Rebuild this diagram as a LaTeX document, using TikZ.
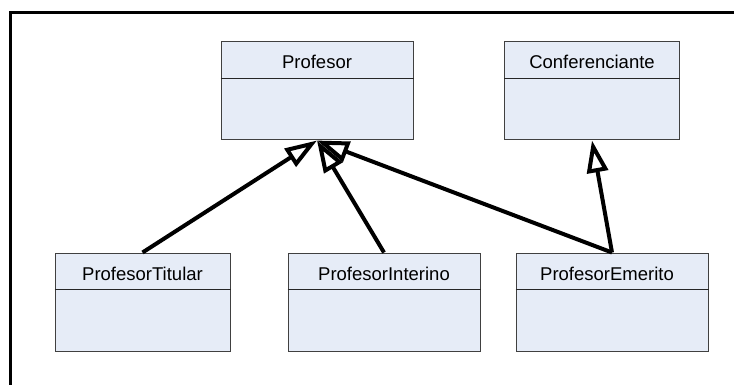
\documentclass[tikz,border=0pt]{standalone}
\usepackage{fontspec}
\setmainfont{Liberation Sans}
\usepackage{tikz}
\usetikzlibrary{arrows.meta}
\definecolor{fondo}{HTML}{E6ECF7}
\definecolor{borde}{HTML}{404040}

\tikzset{
	clase/.style={draw=borde, fill=fondo, line width=1pt, minimum width=#1, minimum height=98pt, inner sep=0pt},
	divisor/.style={draw=black!85, line width=1pt},
	nombre/.style={anchor=base, inner sep=0pt, font=\fontsize{18.5}{21}\selectfont},
	hereda/.style={line width=4pt, -{Triangle[open, length=32pt, width=21pt]}},
	marco/.style={line width=3pt}
}

\begin{document}
\begin{tikzpicture}[x=1pt, y=-1pt]
		\useasboundingbox (0,0) rectangle (734,385);
		\draw[marco] (734,13) -- (10.5,13) -- (10.5,385);
		% clases de arriba
		\node[clase=192pt] (prof) at (317,91) {};
		\node[clase=175pt] (conf) at (592,91) {};
		% clases de abajo
		\node[clase=175pt] (tit) at (142.5,302) {};
		\node[clase=192pt] (inter) at (384,302) {};
		\node[clase=192pt] (emer) at (612,302) {};
		\draw[divisor] ([yshift=-37pt]prof.north west) -- ([yshift=-37pt]prof.north east);
		\draw[divisor] ([yshift=-37pt]conf.north west) -- ([yshift=-37pt]conf.north east);
		\draw[divisor] ([yshift=-37pt]tit.north west) -- ([yshift=-37pt]tit.north east);
		\draw[divisor] ([yshift=-37pt]inter.north west) -- ([yshift=-37pt]inter.north east);
		\draw[divisor] ([yshift=-37pt]emer.north west) -- ([yshift=-37pt]emer.north east);
		\node[nombre] (profnom) at ([yshift=-27.5pt]prof.north) {Profesor};
		\node[nombre] (confnom) at ([yshift=-27.5pt]conf.north) {Conferenciante};
		\node[nombre] (titnom) at ([yshift=-27.5pt]tit.north) {ProfesorTitular};
		\node[nombre] (internom) at ([yshift=-27.5pt]inter.north) {ProfesorInterino};
		\node[nombre] (emernom) at ([yshift=-27.5pt,xshift=-5pt]emer.north) {ProfesorEmerito};
		% herencia
		\draw[hereda] (tit.north) -- (prof.south);
		\draw[hereda] (inter.north) -- (prof.south);
		\draw[hereda] (emer.north) -- (prof.south);
		\draw[hereda] (emer.north) -- (conf.south);
	\end{tikzpicture}
\end{document}
